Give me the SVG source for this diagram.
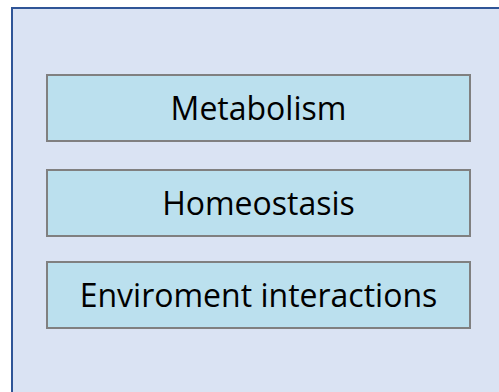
<svg xmlns="http://www.w3.org/2000/svg" width="499" height="392" viewBox="0 0 499 392">
<style>
.outer{fill:#dae3f3;stroke:#2f5597;stroke-width:2}
.box{fill:#bbe0ee;stroke:#808080;stroke-width:2}
.lbl{font-family:"Open Sans","Noto Sans","Liberation Sans",sans-serif;font-size:32px;fill:#000;text-anchor:middle}
</style>
<rect width="499" height="392" fill="#ffffff"/>
<g id="container"><rect class="outer" x="12" y="8" width="500" height="400"/></g>
<g id="metabolism"><rect class="box" x="47" y="75" width="423" height="66"/><text class="lbl" x="258.5" y="120">Metabolism</text></g>
<g id="homeostasis"><rect class="box" x="47" y="170" width="423" height="66"/><text class="lbl" x="258.5" y="215">Homeostasis</text></g>
<g id="environment"><rect class="box" x="47" y="262" width="423" height="66"/><text class="lbl" x="258.5" y="307">Enviroment interactions</text></g>
<g id="connectors"/>
</svg>
